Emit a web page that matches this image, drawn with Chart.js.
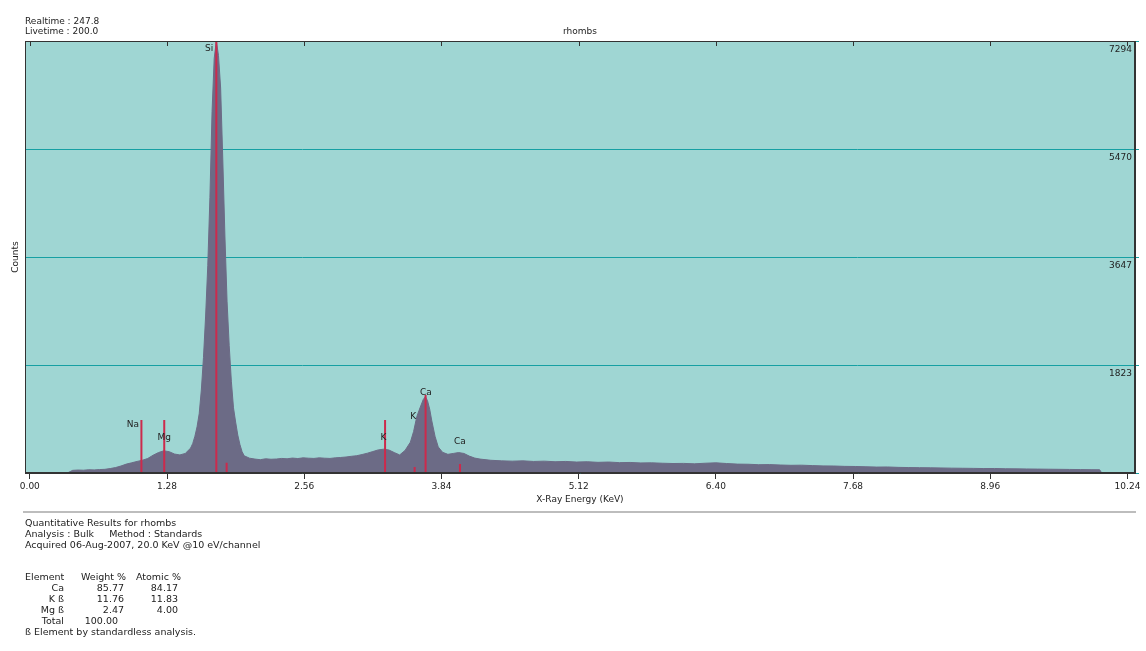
<!DOCTYPE html>
<html>
<head>
<meta charset="utf-8">
<script src="https://cdn.jsdelivr.net/npm/chart.js@4.4.0/dist/chart.umd.min.js"></script>
<style>
  body { margin: 0; background: #fff; width: 1146px; height: 651px; overflow: hidden; position: relative;
         font-family: 'DejaVu Sans', sans-serif; font-size: 9px; color: #222; }
  #spectrum { position: absolute; left: 0; top: 0; }
  .t { position: absolute; white-space: pre; line-height: 10px; }
  .b { font-size: 9.5px; }
  .r { text-align: right; }
  #sep { position: absolute; left: 23px; top: 511px; width: 1113px; height: 2px; background: #bdbdbd; }
</style>
</head>
<body>
<canvas id="spectrum" width="1146" height="651"></canvas>

<div class="t" style="left:25px;top:16px">Realtime : 247.8</div>
<div class="t" style="left:25px;top:26px">Livetime : 200.0</div>
<div class="t" style="left:0;width:1160px;top:26px;text-align:center">rhombs</div>

<div id="sep"></div>
<div class="t b" style="left:25px;top:518px">Quantitative Results for rhombs</div>
<div class="t b" style="left:25px;top:529px">Analysis : Bulk     Method : Standards</div>
<div class="t b" style="left:25px;top:540px">Acquired 06-Aug-2007, 20.0 KeV @10 eV/channel</div>

<div class="t b" style="left:25px;top:572px">Element</div>
<div class="t b" style="left:81px;top:572px">Weight %</div>
<div class="t b" style="left:136px;top:572px">Atomic %</div>
<div id="rows"></div>
<div class="t b" style="left:25px;top:627px">ß Element by standardless analysis.</div>

<script>
// spectrum (keV / counts)
const energy = [0.35, 0.40, 0.45, 0.50, 0.55, 0.60, 0.65, 0.70, 0.75, 0.80, 0.85, 0.90, 0.95, 1.00, 1.05, 1.10,
  1.15, 1.20, 1.25, 1.30, 1.35, 1.40, 1.45, 1.50, 1.52, 1.54, 1.56, 1.58, 1.60, 1.62, 1.64, 1.66, 1.68, 1.70,
  1.72, 1.74, 1.76, 1.78, 1.80, 1.82, 1.84, 1.86, 1.88, 1.90, 1.92, 1.94, 1.96, 1.98, 2.00, 2.05, 2.10, 2.15,
  2.20, 2.25, 2.30, 2.35, 2.40, 2.45, 2.50, 2.55, 2.60, 2.65, 2.70, 2.75, 2.80, 2.85, 2.90, 2.95, 3.00, 3.05,
  3.10, 3.15, 3.20, 3.25, 3.30, 3.35, 3.40, 3.45, 3.50, 3.55, 3.58, 3.61, 3.64, 3.67, 3.69, 3.71, 3.73, 3.75,
  3.78, 3.81, 3.85, 3.90, 3.95, 4.00, 4.05, 4.10, 4.15, 4.20, 4.30, 4.40, 4.50, 4.60, 4.70, 4.80, 4.90, 5.00,
  5.10, 5.20, 5.30, 5.40, 5.50, 5.60, 5.70, 5.80, 5.90, 6.00, 6.10, 6.20, 6.30, 6.40, 6.50, 6.60, 6.70, 6.80,
  6.90, 7.00, 7.10, 7.20, 7.30, 7.40, 7.50, 7.60, 7.70, 7.80, 7.90, 8.00, 8.10, 8.20, 8.30, 8.40, 8.50, 8.60,
  8.70, 8.80, 8.90, 9.00, 9.10, 9.20, 9.30, 9.40, 9.50, 9.60, 9.70, 9.80, 9.90, 9.98, 10.00];
const counts = [0, 45, 50, 47, 55, 52, 58, 62, 75, 92, 118, 150, 172, 195, 215, 245,
  300, 345, 375, 360, 320, 305, 330, 420, 500, 620, 780, 1000, 1400, 1950, 2650, 3500, 4650, 6100,
  7000, 7294, 7050, 6500, 5300, 4000, 2900, 2150, 1550, 1100, 860, 640, 480, 360, 290, 250, 235, 225,
  240, 232, 236, 246, 240, 252, 244, 256, 250, 246, 256, 250, 246, 256, 262, 270, 282, 292,
  312, 335, 362, 390, 402, 388, 345, 305, 380, 520, 700, 950, 1100, 1240, 1288, 1220, 1080, 880,
  620, 440, 350, 315, 330, 345, 330, 285, 252, 235, 215, 205, 200, 205, 195, 200, 190, 195,
  185, 190, 180, 185, 175, 178, 170, 172, 165, 160, 162, 155, 165, 172, 160, 150, 148, 140,
  142, 135, 130, 132, 125, 120, 118, 112, 110, 105, 100, 102, 95, 92, 90, 88, 85, 82,
  80, 78, 75, 76, 72, 70, 68, 66, 64, 62, 60, 58, 56, 55, 0];

// element marker lines
const markerEnergy = [1.041, 1.254, 1.740, 1.836, 3.314, 3.590, 3.692, 4.013];
const markerHeight = [895, 895, 7294, 175, 895, 100, 1316, 150];

// element labels and where they sit (keV / counts)
const labelText = ['Si', 'Na', 'Mg', 'K', 'K', 'Ca', 'Ca'];
const labelE = [1.673, 0.962, 1.253, 3.300, 3.576, 3.694, 4.011];
const labelC = [7170, 810, 590, 590, 950, 1355, 528];

const xTicks = [0.00, 1.28, 2.56, 3.84, 5.12, 6.40, 7.68, 8.96, 10.24];
const yTicks = [0, 1823, 3647, 5470, 7294];

// results table
const elements = ['Ca', 'K ß', 'Mg ß', 'Total'];
const weightPct = ['85.77', '11.76', '2.47', '100.00'];
const atomicPct = ['84.17', '11.83', '4.00', ''];

const rows = document.getElementById('rows');
elements.forEach(function (el, i) {
  const top = 583 + i * 11;
  rows.insertAdjacentHTML('beforeend',
    '<div class="t b r" style="left:0;width:64px;top:' + top + 'px">' + el + '</div>' +
    '<div class="t b r" style="left:0;width:' + (el === 'Total' ? 118 : 124) + 'px;top:' + top + 'px">' + weightPct[i] + '</div>' +
    '<div class="t b r" style="left:0;width:178px;top:' + top + 'px">' + atomicPct[i] + '</div>');
});

const spectrumPts = energy.map((e, i) => ({ x: e, y: counts[i] }));
const markerPts = [];
markerEnergy.forEach(function (e, i) {
  markerPts.push({ x: e, y: 0 }, { x: e, y: markerHeight[i] }, { x: e, y: null });
});

const font = { family: 'DejaVu Sans', size: 9 };

const decor = {
  id: 'decor',
  beforeDraw(chart) {
    const { ctx, chartArea: a } = chart;
    ctx.save();
    ctx.fillStyle = '#9fd6d3';
    ctx.fillRect(a.left, a.top, a.right - a.left, a.bottom - a.top);
    ctx.restore();
  },
  afterDatasetsDraw(chart) {
    const { ctx, chartArea: a, scales } = chart;
    ctx.save();
    ctx.fillStyle = '#222';
    ctx.font = '9px "DejaVu Sans"';
    ctx.textAlign = 'center';
    ctx.textBaseline = 'middle';
    labelText.forEach(function (t, i) {
      ctx.fillText(t, scales.x.getPixelForValue(labelE[i]), scales.y.getPixelForValue(labelC[i]));
    });
    ctx.strokeStyle = '#333';
    ctx.lineWidth = 1;
    ctx.beginPath();
    xTicks.forEach(function (v) {
      const px = Math.round(scales.x.getPixelForValue(v)) + 0.5;
      ctx.moveTo(px, a.top);
      ctx.lineTo(px, a.top + 5);
    });
    ctx.stroke();
    ctx.strokeRect(a.left + 0.5, a.top + 0.5, a.right - a.left - 1, a.bottom - a.top - 1);
    ctx.restore();
  }
};

new Chart(document.getElementById('spectrum'), {
  type: 'line',
  data: {
    datasets: [{
      data: markerPts,
      borderColor: '#cc2a4c',
      borderWidth: 2,
      pointRadius: 0,
      fill: false,
      spanGaps: false,
      order: 0
    },
    {
      data: spectrumPts,
      borderColor: '#6c6b86',
      backgroundColor: '#6c6b86',
      borderWidth: 1,
      pointRadius: 0,
      tension: 0,
      fill: 'origin',
      order: 1
    }]
  },
  plugins: [decor],
  options: {
    responsive: false,
    animation: false,
    devicePixelRatio: 1,
    layout: { padding: { top: 41, bottom: 142, left: 0, right: 0 } },
    plugins: { legend: { display: false }, tooltip: { enabled: false } },
    scales: {
      x: {
        type: 'linear',
        min: -0.045,
        max: 10.31,
        afterBuildTicks: s => { s.ticks = xTicks.map(v => ({ value: v })); },
        afterFit: s => { s.height = 36; },
        ticks: { autoSkip: false, maxRotation: 0, padding: 2, color: '#222', font: font,
                 callback: v => Number(v).toFixed(2) },
        grid: { drawOnChartArea: false, tickLength: 6, color: '#333' },
        border: { color: '#333' },
        title: { display: true, text: 'X-Ray Energy (KeV)', color: '#222', font: font, padding: { top: 0, bottom: 4 } }
      },
      y: {
        position: 'right',
        min: 0,
        max: 7294,
        afterBuildTicks: s => { s.ticks = yTicks.map(v => ({ value: v })); },
        afterFit: s => { s.width = 11; },
        ticks: { mirror: true, padding: -3, labelOffset: 9, color: '#222', font: font,
                 callback: v => (v === 0 ? '' : String(v)) },
        grid: { color: '#16a0a3', tickLength: 4 },
        border: { color: '#333' }
      },
      yl: {
        position: 'left',
        afterFit: s => { s.width = 25; },
        ticks: { display: false },
        grid: { display: false },
        border: { color: '#333' },
        title: { display: true, text: 'Counts', color: '#222', font: font, padding: { top: 10, bottom: 0 } }
      }
    }
  }
});
</script>
</body>
</html>
